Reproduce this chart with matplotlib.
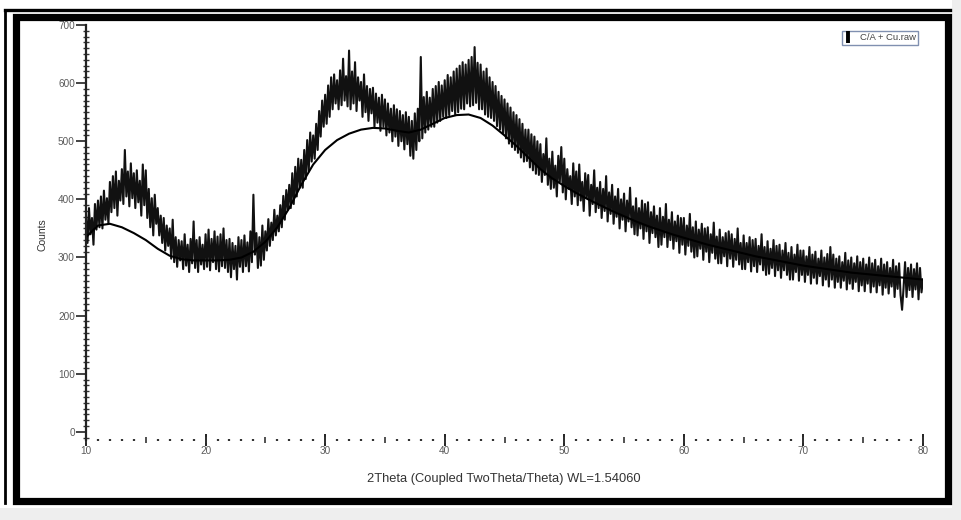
import numpy as np
import matplotlib
matplotlib.use("Agg")
import matplotlib.pyplot as plt
from matplotlib.patches import Rectangle
from matplotlib.lines import Line2D
from matplotlib.ticker import MultipleLocator, FixedLocator, NullFormatter

plt.rcParams['font.family'] = ['Liberation Sans', 'DejaVu Sans']

# ---- data ----
two_theta_start = 10.0
two_theta_step = 0.125
counts = [
    372, 325, 385, 340, 368, 322, 392, 348,   # 10
    398, 352, 405, 350, 415, 365, 402, 358,   # 11
    430, 378, 440, 385, 448, 372, 432, 398,   # 12
    452, 392, 485, 405, 448, 388, 462, 402,   # 13
    445, 385, 450, 395, 432, 372, 460, 390,   # 14
    450, 368, 418, 352, 402, 338, 408, 358,   # 15
    385, 338, 372, 325, 368, 312, 355, 320,   # 16
    350, 298, 365, 292, 335, 284, 330, 295,   # 17
    328, 280, 340, 286, 322, 275, 332, 290,   # 18
    362, 282, 330, 275, 335, 288, 322, 280,   # 19
    340, 284, 348, 278, 332, 292, 345, 280,   # 20
    336, 276, 340, 285, 350, 282, 330, 275,   # 21
    332, 266, 325, 280, 320, 262, 335, 284,   # 22
    330, 275, 338, 285, 326, 276, 345, 292,   # 23
    408, 305, 342, 282, 335, 286, 355, 296,   # 24
    345, 312, 366, 320, 360, 330, 382, 338,   # 25
    372, 345, 390, 352, 406, 365, 416, 382,   # 26
    425, 385, 445, 392, 456, 405, 470, 420,   # 27
    468, 420, 485, 435, 502, 448, 515, 465,   # 28
    510, 470, 530, 485, 552, 508, 570, 525,   # 29
    580, 530, 596, 542, 610, 555, 615, 565,   # 30
    605, 555, 622, 562, 642, 570, 612, 560,   # 31
    656, 555, 620, 565, 636, 552, 610, 570,   # 32
    602, 542, 615, 550, 595, 535, 590, 548,   # 33
    592, 525, 582, 532, 575, 518, 580, 525,   # 34
    572, 510, 565, 515, 556, 500, 562, 508,   # 35
    555, 492, 552, 500, 545, 486, 550, 495,   # 36
    542, 475, 535, 470, 548, 485, 556, 500,   # 37
    645, 505, 576, 515, 585, 520, 575, 525,   # 38
    590, 525, 595, 532, 602, 535, 596, 542,   # 39
    605, 540, 614, 545, 610, 552, 620, 546,   # 40
    625, 550, 630, 556, 636, 555, 632, 565,   # 41
    640, 560, 645, 562, 662, 566, 635, 555,   # 42
    632, 555, 620, 546, 625, 542, 610, 540,   # 43
    602, 535, 595, 526, 585, 520, 578, 514,   # 44
    572, 505, 565, 496, 558, 490, 550, 485,   # 45
    545, 480, 538, 472, 530, 465, 520, 466,   # 46
    520, 455, 512, 450, 508, 444, 500, 442,   # 47
    495, 430, 478, 442, 505, 425, 470, 418,   # 48
    482, 420, 458, 405, 475, 430, 490, 412,   # 49
    470, 400, 452, 418, 440, 392, 462, 405,   # 50
    448, 390, 460, 398, 430, 380, 445, 402,   # 51
    442, 372, 425, 392, 450, 378, 420, 385,   # 52
    430, 368, 418, 380, 440, 362, 412, 375,   # 53
    425, 358, 405, 370, 418, 350, 400, 365,   # 54
    410, 345, 398, 362, 420, 352, 388, 340,   # 55
    402, 338, 385, 350, 398, 332, 392, 345,   # 56
    395, 325, 378, 342, 388, 335, 372, 318,   # 57
    385, 322, 370, 335, 392, 318, 365, 330,   # 58
    378, 315, 362, 328, 372, 308, 368, 322,   # 59
    368, 305, 355, 320, 375, 310, 352, 300,   # 60
    362, 302, 348, 315, 358, 296, 350, 310,   # 61
    352, 292, 340, 308, 360, 298, 336, 290,   # 62
    348, 290, 335, 302, 342, 285, 345, 298,   # 63
    340, 284, 332, 296, 350, 288, 325, 280,   # 64
    338, 280, 325, 292, 335, 276, 330, 285,   # 65
    332, 275, 320, 288, 340, 278, 318, 270,   # 66
    328, 272, 315, 282, 330, 268, 320, 278,   # 67
    322, 265, 312, 278, 325, 270, 308, 262,   # 68
    318, 262, 305, 275, 322, 260, 312, 270,   # 69
    312, 258, 302, 270, 318, 255, 305, 265,   # 70
    310, 255, 298, 268, 312, 252, 300, 262,   # 71
    306, 250, 318, 262, 305, 248, 298, 258,   # 72
    302, 248, 292, 260, 308, 245, 295, 255,   # 73
    300, 246, 290, 258, 302, 242, 292, 252,   # 74
    298, 242, 288, 255, 300, 240, 290, 250,   # 75
    296, 240, 285, 252, 298, 236, 288, 248,   # 76
    292, 238, 282, 250, 296, 232, 285, 246,   # 77
    290, 235, 210, 248, 292, 232, 282, 244,   # 78
    288, 232, 280, 245, 290, 228, 282, 240,   # 79
    262,                                      # 80
]
two_theta = two_theta_start + two_theta_step * np.arange(len(counts))

fit_theta = list(range(10, 81))
fit_counts = [
    335, 355, 358, 352, 342, 330, 315, 303, 297, 295,   # 10-19
    295, 295, 296, 300, 310, 327, 352, 385, 425, 460,   # 20-29
    485, 502, 513, 520, 523, 522, 518, 515, 520, 530,   # 30-39
    540, 545, 546, 540, 527, 510, 492, 472, 452, 436,   # 40-49
    423, 411, 400, 390, 380, 371, 362, 354, 347, 340,   # 50-59
    334, 328, 322, 317, 312, 307, 302, 298, 294, 290,   # 60-69
    286, 283, 280, 277, 274, 272, 270, 268, 266, 264,   # 70-79
    262,                                                # 80
]

y_ticks = [0, 100, 200, 300, 400, 500, 600, 700]
x_ticks = [10, 20, 30, 40, 50, 60, 70, 80]
legend_label = "C/A + Cu.raw"
x_label = "2Theta (Coupled TwoTheta/Theta) WL=1.54060"
y_label = "Counts"

# ---- figure ----
W, H = 961, 520
fig = plt.figure(figsize=(W / 100, H / 100), dpi=100)
fig.patch.set_facecolor('white')

def fx(px):
    return px / W

def fy(py):
    return 1 - py / H

ax_left, ax_right, ax_top, ax_bot = 86, 923, 25, 440
ax = fig.add_axes([fx(ax_left), fy(ax_bot), fx(ax_right - ax_left), fy(ax_top) - fy(ax_bot)])
ax.set_facecolor('white')

ax.plot(two_theta, counts, color='#111111', lw=1.5)
ax.plot(fit_theta, fit_counts, color='black', lw=1.5)

ax.set_xlim(10, 80)
ax.set_ylim(-14, 700)

for s in ['top', 'right', 'bottom']:
    ax.spines[s].set_visible(False)
ax.spines['left'].set_linewidth(1.6)
ax.spines['left'].set_color('#222222')

tick_col = '#5a5a5a'
ax.yaxis.set_major_locator(FixedLocator(y_ticks))
ax.yaxis.set_minor_locator(MultipleLocator(10))
ax.tick_params(axis='y', which='major', direction='out', length=7, width=1.2,
               labelsize=7.2, labelcolor=tick_col, color='#222222', pad=1)
ax.tick_params(axis='y', which='minor', direction='inout', length=4, width=1.0, color='#333333')

# x axis: dots every 1, small ticks every 5 (primary), long ticks at 10 (secondary)
ax.xaxis.set_major_locator(MultipleLocator(5))
ax.xaxis.set_minor_locator(MultipleLocator(1))
ax.xaxis.set_major_formatter(NullFormatter())
ax.tick_params(axis='x', which='major', direction='inout', length=5, width=1.2, color='#333333')
ax.tick_params(axis='x', which='minor', direction='inout', length=1.6, width=1.6, color='#333333')

sec = ax.secondary_xaxis('bottom')
sec.spines['bottom'].set_visible(False)
sec.set_xticks(x_ticks)
sec.set_xticklabels([str(t) for t in x_ticks])
sec.tick_params(axis='x', direction='inout', length=9, width=1.4, color='#222222',
                labelsize=7.2, labelcolor=tick_col, pad=0)

fig.text(fx(504), fy(479), x_label, ha='center', va='center', fontsize=9.3, color='#333333')
fig.text(fx(42), fy(235), y_label, ha='center', va='center', rotation=90, fontsize=7.5, color='#333333')

handle = Line2D([], [], color='black', marker='|', markersize=9, markeredgewidth=2.8, linestyle='None')
leg = ax.legend([handle], [legend_label], loc='upper right',
                bbox_to_anchor=(fx(918), fy(31)), bbox_transform=fig.transFigure,
                fontsize=6.8, frameon=True, fancybox=False, framealpha=1,
                edgecolor='#8090b0', handlelength=0.8, handletextpad=0.8,
                borderpad=0.25, borderaxespad=0)
leg.get_frame().set_linewidth(1.0)
for t in leg.get_texts():
    t.set_color('#444444')

# ---- screenshot frame ----
fig.patches.append(Rectangle((fx(952), 0), fx(W - 952), 1, transform=fig.transFigure,
                             facecolor='#eeeeee', edgecolor='none', zorder=0))
fig.patches.append(Rectangle((0, 0), 1, fy(508), transform=fig.transFigure,
                             facecolor='#eeeeee', edgecolor='none', zorder=0))
fig.add_artist(Line2D([fx(5), fx(950)], [fy(9.5), fy(9.5)], transform=fig.transFigure,
                      color='black', lw=2.4))
fig.add_artist(Line2D([fx(5), fx(5)], [fy(9.5), fy(503)], transform=fig.transFigure,
                      color='black', lw=2.0))
fig.patches.append(Rectangle((fx(15.5), fy(500.5)), fx(947.5 - 15.5), fy(16.5) - fy(500.5),
                             transform=fig.transFigure, facecolor='none',
                             edgecolor='black', lw=5.2, zorder=5))

fig.savefig('out.png', dpi=100, facecolor='white')
